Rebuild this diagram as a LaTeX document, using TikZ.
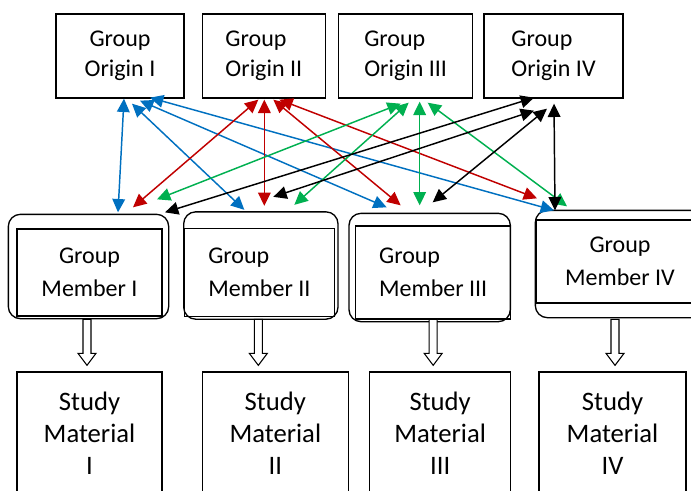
\documentclass[tikz,border=0pt]{standalone}
\usepackage{fontspec}
\setmainfont{Carlito}
\usetikzlibrary{arrows.meta,positioning,calc}

\definecolor{linkblue}{RGB}{0,112,192}
\definecolor{linkred}{RGB}{192,0,0}
\definecolor{linkgreen}{RGB}{0,176,80}

\tikzset{
  originbox/.style={draw, line width=1pt, minimum height=63pt, font=\fontsize{18}{22.5}\selectfont},
  memberbox/.style={draw, line width=1pt, font=\fontsize{18}{25}\selectfont},
  studybox/.style={draw, line width=1pt, minimum height=91.5pt, align=center, font=\fontsize{20}{24}\selectfont},
  shellbox/.style={line width=1pt, rounded corners=9pt},
  linkarrow/.style={>={Triangle[length=10pt,width=9.5pt]}, <->, line width=1.1pt},
  blockarrow/.style={draw, line width=0.8pt, fill=white}
}

\newcommand{\hollowarrow}[3][0]{%
  \begin{scope}[shift={(#2.south |- #3.north)}]
    \draw[blockarrow] (#1-4,-52) -- (#1-4,-18) -- (#1-9,-18) -- (#1,-6) -- (#1+9,-18) -- (#1+4,-18) -- (#1+4,-52) -- cycle;
  \end{scope}}

\begin{document}
\begin{tikzpicture}[x=0.75pt, y=-0.75pt]
  \useasboundingbox (0,0) rectangle (691,490);

  \node[originbox, minimum width=96pt, align=center] (o1) at (120,56) {Group\\Origin I};
  \node[originbox, minimum width=92.25pt, align=left] (o2) [right=12.75pt of o1] {Group\\Origin II};
  \node[originbox, minimum width=100.5pt, align=left] (o3) [right=9pt of o2] {Group\\Origin III};
  \node[originbox, minimum width=104.25pt, align=left] (o4) [right=7.5pt of o3] {Group\\Origin IV};

  \node[memberbox, minimum width=108.75pt, minimum height=65.25pt, align=center] (m1) at (89.5,272.5) {Group\\Member I};
  \node[memberbox, minimum width=112.5pt, minimum height=66pt, align=left] (m2) [right=15.75pt of m1] {Group\\Member II};
  \node[memberbox, minimum width=116.25pt, minimum height=69.75pt, align=left] (m3) [right=15pt of m2] {Group\\Member III};
  \node[memberbox, minimum width=126pt, minimum height=62.25pt, align=center] (m4) [right=18pt of m3, yshift=8.25pt] {Group\\Member IV};

  \draw[shellbox] ([shift={(-8,-14)}]m1.north west) rectangle ([shift={(6,2)}]m1.south east);
  \draw[shellbox] ([shift={(0,-16)}]m2.north west) rectangle ([shift={(3,2)}]m2.south east);
  \draw[shellbox] ([shift={(-6,-12)}]m3.north west) rectangle ([shift={(-1,2)}]m3.south east);
  \draw[shellbox] ([shift={(0,-9)}]m4.north west) rectangle ([shift={(0,14)}]m4.south east);

  \node[studybox, minimum width=108.75pt] (s1) at (89.5,433) {Study\\Material\\I};
  \node[studybox, minimum width=109.5pt] (s2) [right=29.25pt of s1] {Study\\Material\\II};
  \node[studybox, minimum width=105.75pt] (s3) [right=15pt of s2] {Study\\Material\\III};
  \node[studybox, minimum width=110.25pt] (s4) [right=20.25pt of s3] {Study\\Material\\IV};

  \draw[linkarrow, linkblue] ([shift={(4,0)}]o1.south) -- ([shift={(28.5,-16)}]m1.north);
  \draw[linkarrow, linkblue] ([shift={(12,5)}]o1.south) -- ([shift={(-15,-18)}]m2.north);
  \draw[linkarrow, linkblue] ([shift={(20,2)}]o1.south) -- ([shift={(-46.5,-18)}]m3.north);
  \draw[linkarrow, linkblue] ([shift={(30,-1)}]o1.south) -- ([shift={(-66,-9)}]m4.north);

  \draw[linkarrow, linkred] ([shift={(-5.5,1)}]o2.south) -- ([shift={(43.5,-21)}]m1.north);
  \draw[linkarrow, linkred] ([shift={(0.5,1)}]o2.south) -- ([shift={(5,-22)}]m2.north);
  \draw[linkarrow, linkred] ([shift={(9.5,1)}]o2.south) -- ([shift={(-32.5,-20)}]m3.north);
  \draw[linkarrow, linkred] ([shift={(15.5,1)}]o2.south) -- ([shift={(-83,-21)}]m4.north);

  \draw[linkarrow, linkgreen] ([shift={(-5,5)}]o3.south) -- ([shift={(67.5,-29)}]m1.north);
  \draw[linkarrow, linkgreen] ([shift={(3,4)}]o3.south) -- ([shift={(35,-23)}]m2.north);
  \draw[linkarrow, linkgreen] ([shift={(14,3)}]o3.south) -- ([shift={(-13.5,-20)}]m3.north);
  \draw[linkarrow, linkgreen] ([shift={(22,4)}]o3.south) -- ([shift={(-53,-13)}]m4.north);

  \draw[linkarrow] ([shift={(-19.5,-1)}]o4.south) -- ([shift={(75.5,-16)}]m1.north);
  \draw[linkarrow] ([shift={(-19.5,12)}]o4.south) -- ([shift={(14,-31)}]m2.north);
  \draw[linkarrow] ([shift={(-6.5,10)}]o4.south) -- ([shift={(-0.5,-23)}]m3.north);
  \draw[linkarrow] ([shift={(0.5,5)}]o4.south) -- ([shift={(-65,-9)}]m4.north);

  \hollowarrow[-2.5]{m1}{s1}
  \hollowarrow[-1]{m2}{s2}
  \hollowarrow{m3}{s3}
  \hollowarrow[-5]{m4}{s4}
\end{tikzpicture}
\end{document}
